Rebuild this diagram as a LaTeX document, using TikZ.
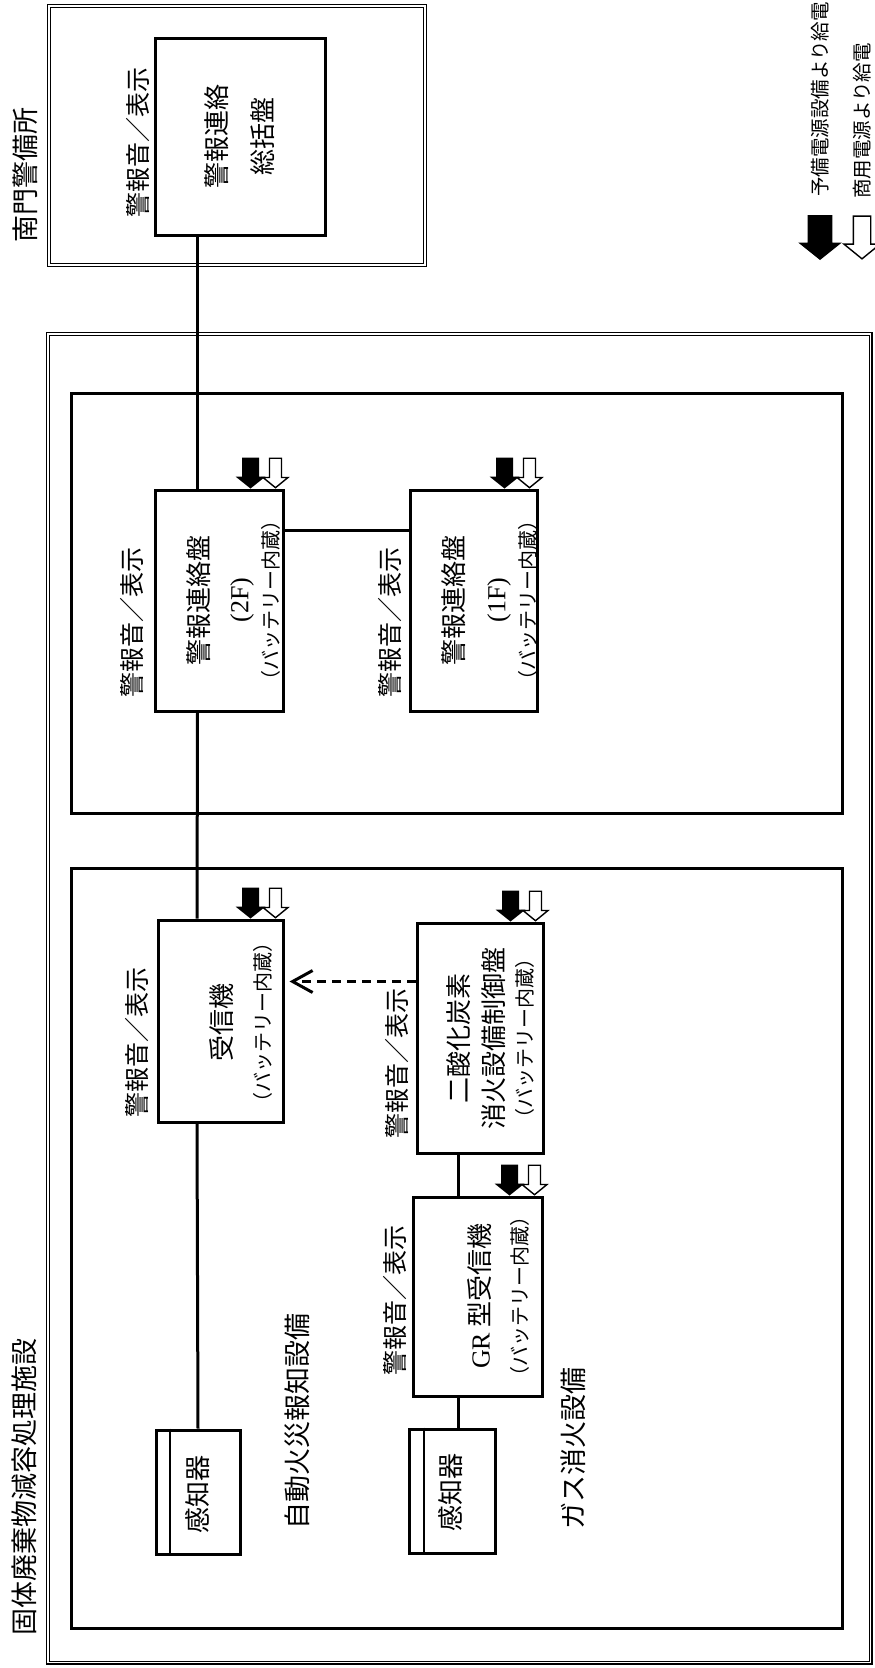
\documentclass[tikz,border=0pt]{standalone}
\usepackage{fontspec}
\setmainfont{Noto Sans CJK JP}
\newfontfamily\latin{Liberation Serif}
\usetikzlibrary{positioning,calc,arrows.meta}
\tikzset{%
  unit/.style={draw, line width=3pt, inner sep=0pt},
  vtext/.style={rotate=90, inner sep=0pt, align=center},
  bell/.style={vtext, font=\fontsize{25}{25}\selectfont},
  title/.style={vtext, anchor=west, font=\fontsize{27}{27}\selectfont},
  wire/.style={line width=3pt},
  area/.style={line width=3pt},
  site/.style={double, double distance=1.6pt, line width=1.2pt},
  backup/.pic={
    \fill (0,0) -- (-15,-12) -- (-8.5,-12) -- (-8.5,-31) -- (8.5,-31) -- (8.5,-12) -- (15,-12) -- cycle;
  },
  mains/.pic={
    \draw[line width=1.4pt, fill=white] (0,-0.8) -- (-12.5,-11) -- (-6,-11) -- (-6,-30.3) -- (6,-30.3) -- (6,-11) -- (12.5,-11) -- cycle;
  },
  supply/.pic={
    \pic {backup};
    \pic at (25,0) {mains};
  },
}

\begin{document}
\begin{tikzpicture}[x=1pt,y=-1pt,>={Straight Barb[length=20pt,width=22pt]}]
  \useasboundingbox (0,0) rectangle (875,1668);

  % legend
  \pic[scale=1.45] at (820,260) {backup};
  \pic[scale=1.45] at (862,260) {mains};
  \node[vtext, anchor=west, font=\fontsize{19.5}{19.5}\selectfont] (lgbackup) at (820,197) {予備電源設備より給電};
  \node[vtext, anchor=west, font=\fontsize{19.5}{19.5}\selectfont] (lgmains) at (862,199) {商用電源より給電};

  % frames
  \draw[site] (49.2,6) rectangle (425,265);
  \draw[site] (48,334) rectangle (870.5,1662.5);
  \draw[area] (71,393) rectangle (842,813);
  \draw[area] (71,868) rectangle (842,1628);
  \node[title] (gate) at (25,243) {南門警備所};
  \node[title] (plant) at (24,1636) {固体廃棄物減容処理施設};
  \node[title] (fire) at (297,1530) {自動火災報知設備};
  \node[title] (gas) at (573,1530) {ガス消火設備};

  % boxes
  \node[unit, minimum width=170pt, minimum height=197pt] (hq) at (240,136.5) {};
  \node[unit, minimum width=128pt, minimum height=221pt] (f2) at (219,600.5) {};
  \node[unit, minimum width=127pt, minimum height=221pt] (f1) at (473.5,600.5) {};
  \node[unit, minimum width=125pt, minimum height=202pt] (rx) at (220.5,1021) {};
  \node[unit, minimum width=126pt, minimum height=230pt] (co2) at (480,1038) {};
  \node[unit, minimum width=129pt, minimum height=199pt] (gr) at (477.5,1296.5) {};
  \node[unit, minimum width=84pt, minimum height=124pt] (det1) at (198,1492) {};
  \node[unit, minimum width=86pt, minimum height=124pt] (det2) at (452,1491) {};
  \draw[line width=2pt] ([xshift=15pt]det1.north west) -- ([xshift=15pt]det1.south west);
  \draw[line width=2pt] ([xshift=16pt]det2.north west) -- ([xshift=16pt]det2.south west);

  % box texts
  \node[vtext, font=\fontsize{26}{46}\selectfont] at (240,136) {警報連絡\\総括盤};
  \node[vtext, font=\fontsize{26}{40}\selectfont] at (233.5,600) {警報連絡盤\\{\latin (2F)}\\[-10pt]{\fontsize{20}{20}\selectfont （バッテリー内蔵）}};
  \node[vtext, font=\fontsize{26}{42}\selectfont] at (489.5,600) {警報連絡盤\\{\latin (1F)}\\[-12pt]{\fontsize{20}{20}\selectfont （バッテリー内蔵）}};
  \node[vtext, font=\fontsize{26}{39}\selectfont] at (241,1022) {受信機\\{\fontsize{20}{20}\selectfont （バッテリー内蔵）}};
  \node[vtext, font=\fontsize{26}{35}\selectfont] at (491,1038) {二酸化炭素\\消火設備制御盤\\[-6pt]{\fontsize{20}{20}\selectfont （バッテリー内蔵）}};
  \node[vtext, font=\fontsize{26}{38}\selectfont] at (498.5,1296) {{\latin GR} 型受信機\\{\fontsize{20}{20}\selectfont （バッテリー内蔵）}};
  \node[vtext, font=\fontsize{26}{26}\selectfont] at (198,1494) {感知器};
  \node[vtext, font=\fontsize{26}{26}\selectfont] at (451,1492) {感知器};

  % alarm labels
  \node[bell] (bhq) at (138,142) {警報音／表示};
  \node[bell] (bf2) at (132,622) {警報音／表示};
  \node[bell] (bf1) at (390,622) {警報音／表示};
  \node[bell] (brx) at (137,1042) {警報音／表示};
  \node[bell] (bco2) at (397,1063) {警報音／表示};
  \node[bell] (bgr) at (395,1300) {警報音／表示};

  % power supply marks
  \pic at ([xshift=-34pt]f2.north east) {supply};
  \pic at ([xshift=-34pt]f1.north east) {supply};
  \pic at ([xshift=-34pt]rx.north east) {supply};
  \pic at ([xshift=-34pt]co2.north east) {supply};
  \pic at ([xshift=-34pt]gr.north east) {supply};

  % connections
  \draw[wire] ([xshift=44pt]hq.south west) -- ([xshift=44pt]f2.north west);
  \draw[wire] ([xshift=44pt]f2.south west) -- ([xshift=40.5pt]rx.north west);
  \draw[wire] ([xshift=40.5pt]rx.south west) -- (det1.north);
  \draw[wire] ([yshift=-42pt]f2.north east) -- ([yshift=-42pt]f1.north west);
  \draw[wire] ([xshift=42.5pt]co2.south west) -- ([xshift=46.5pt]gr.north west);
  \draw[wire] ([xshift=46.5pt]gr.south west) -- ([xshift=50.5pt]det2.north west);
  \draw[wire, dash pattern=on 9pt off 6pt, ->, shorten >=5pt] ([yshift=-60pt]co2.north west) -- ([yshift=-60pt]co2.north west -| rx.east);
\end{tikzpicture}
\end{document}
